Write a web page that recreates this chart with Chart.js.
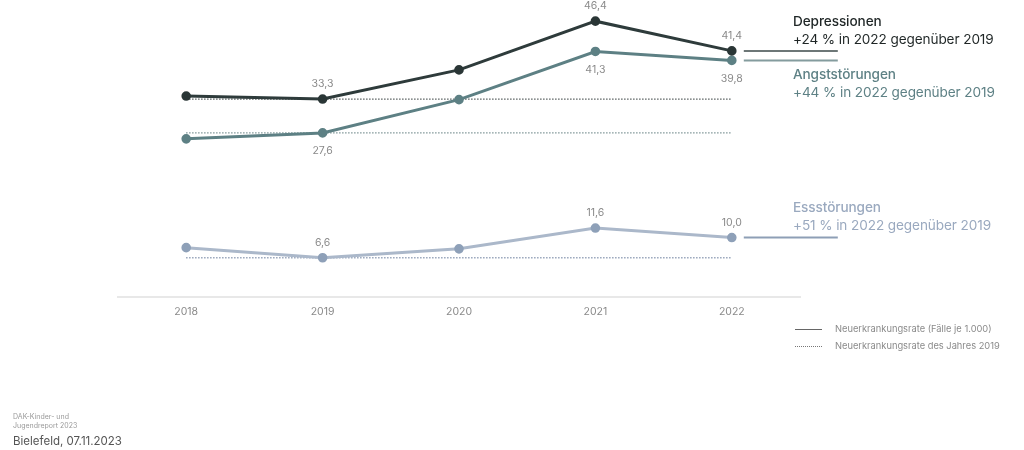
<!DOCTYPE html>
<html>
<head>
<meta charset="utf-8">
<script src="https://cdn.jsdelivr.net/npm/chart.js@4"></script>
<style>
  html,body{margin:0;padding:0;background:#fff;font-family:Inter,"Noto Sans",sans-serif}
  #wrap{position:relative;width:1024px;height:450px}
  canvas{position:absolute;left:0;top:0}
  .lbl{position:absolute;left:793px;font-size:13.6px;line-height:18px;white-space:nowrap;letter-spacing:-0.1px}
  .lbl b{font-weight:500}
  .leg{position:absolute;left:835px;font-size:9.3px;color:#8a8a8a;white-space:nowrap}
  .legline{position:absolute;left:795px;width:27px}
  .foot1{position:absolute;left:13px;top:412px;font-size:7px;line-height:9px;color:#9a9a9a}
  .foot2{position:absolute;left:13px;top:434px;font-size:11.5px;color:#555}
</style>
</head>
<body>
<div id="wrap">
  <canvas id="c" width="1024" height="450"></canvas>
  <div class="lbl" style="top:12px;color:#1f2626"><b>Depressionen</b><br>+24 % in 2022 gegenüber 2019</div>
  <div class="lbl" style="top:65px;color:#5e8185"><b>Angststörungen</b><br>+44 % in 2022 gegenüber 2019</div>
  <div class="lbl" style="top:198px;color:#9aa9bf"><b>Essstörungen</b><br>+51 % in 2022 gegenüber 2019</div>
  <div class="legline" style="top:329px;border-top:1.5px solid #666"></div>
  <div class="leg" style="top:323px">Neuerkrankungsrate (Fälle je 1.000)</div>
  <div class="legline" style="top:346px;border-top:1.5px dotted #777"></div>
  <div class="leg" style="top:340px">Neuerkrankungsrate des Jahres 2019</div>
  <div class="foot1">DAK-Kinder- und<br>Jugendreport 2023</div>
  <div class="foot2">Bielefeld, 07.11.2023</div>
</div>
<script>
// ─── DATA ───────────────────────────────────────────────
const years = ['2018','2019','2020','2021','2022'];
const depression = [33.8, 33.3, 38.2, 46.4, 41.4];
const anxiety    = [26.6, 27.6, 33.2, 41.3, 39.8];
const eating     = [8.3, 6.6, 8.1, 11.6, 10.0];
const depressionRef2019 = [33.3, 33.3, 33.3, 33.3, 33.3];
const anxietyRef2019    = [27.6, 27.6, 27.6, 27.6, 27.6];
const eatingRef2019     = [6.6, 6.6, 6.6, 6.6, 6.6];
const yMin = 0, yMax = 48.9;

// which points get a value label, and above(-1)/below(+1)
const labelPos = [
  {ds:0, idx:[1,3,4], dir:[-1,-1,-1]},
  {ds:1, idx:[1,3,4], dir:[1,1,1]},
  {ds:2, idx:[1,3,4], dir:[-1,-1,-1]}
];
const connColors = ['#6d7777','#849c9e','#8e9fb6'];

const fmt = v => v.toFixed(1).replace('.', ',');

// value labels + connector lines to the right-side annotations
const extras = {
  id:'extras',
  afterDatasetsDraw(chart){
    const ctx = chart.ctx;
    ctx.save();
    ctx.font = '10.5px Inter, sans-serif';
    ctx.fillStyle = '#8a8a8a';
    ctx.textAlign = 'center';
    ctx.textBaseline = 'middle';
    labelPos.forEach(lp=>{
      const meta = chart.getDatasetMeta(lp.ds);
      const vals = chart.data.datasets[lp.ds].data;
      lp.idx.forEach((i,k)=>{
        const pt = meta.data[i];
        const off = lp.dir[k] < 0 ? -15 : 18;
        ctx.fillText(fmt(vals[i]), pt.x, pt.y + off);
      });
    });
    [0,1,2].forEach(d=>{
      const meta = chart.getDatasetMeta(d);
      const pt = meta.data[meta.data.length-1];
      ctx.strokeStyle = connColors[d];
      ctx.lineWidth = 2;
      ctx.beginPath();
      ctx.moveTo(pt.x+12, pt.y);
      ctx.lineTo(pt.x+106, pt.y);
      ctx.stroke();
    });
    ctx.restore();
  }
};

const solid = (data, line, point) => ({
  data, borderColor:line, backgroundColor:point, pointBackgroundColor:point, pointBorderColor:point,
  borderWidth:3, pointRadius:3.3, pointHoverRadius:3.3, tension:0, order:1
});
const dotted = (data, color) => ({
  data, borderColor:color, borderWidth:1.3, borderDash:[1.3,1.7], pointRadius:0, tension:0, order:2
});

new Chart(document.getElementById('c'), {
  type:'line',
  data:{
    labels:years,
    datasets:[
      solid(depression, '#2e3b3b', '#2a3636'),
      solid(anxiety, '#5d8084', '#5d8084'),
      solid(eating, '#abb8ca', '#8ea0b8'),
      dotted(depressionRef2019, '#3f4747'),
      dotted(anxietyRef2019, '#6c8688'),
      dotted(eatingRef2019, '#8797b0')
    ]
  },
  options:{
    responsive:false,
    animation:false,
    devicePixelRatio:1,
    layout:{padding:{left:118, right:224, top:0, bottom:0}},
    plugins:{legend:{display:false}, tooltip:{enabled:false}},
    scales:{
      x:{
        offset:true,
        grid:{display:true, drawOnChartArea:false, drawTicks:false},
        border:{display:true, color:'#e8e8e8', width:2},
        ticks:{padding:9, color:'#8a8a8a', font:{family:'Inter', size:10.5}},
        afterFit: s => { s.height = 153; }
      },
      y:{display:false, min:yMin, max:yMax}
    }
  },
  plugins:[extras]
});
</script>
</body>
</html>
